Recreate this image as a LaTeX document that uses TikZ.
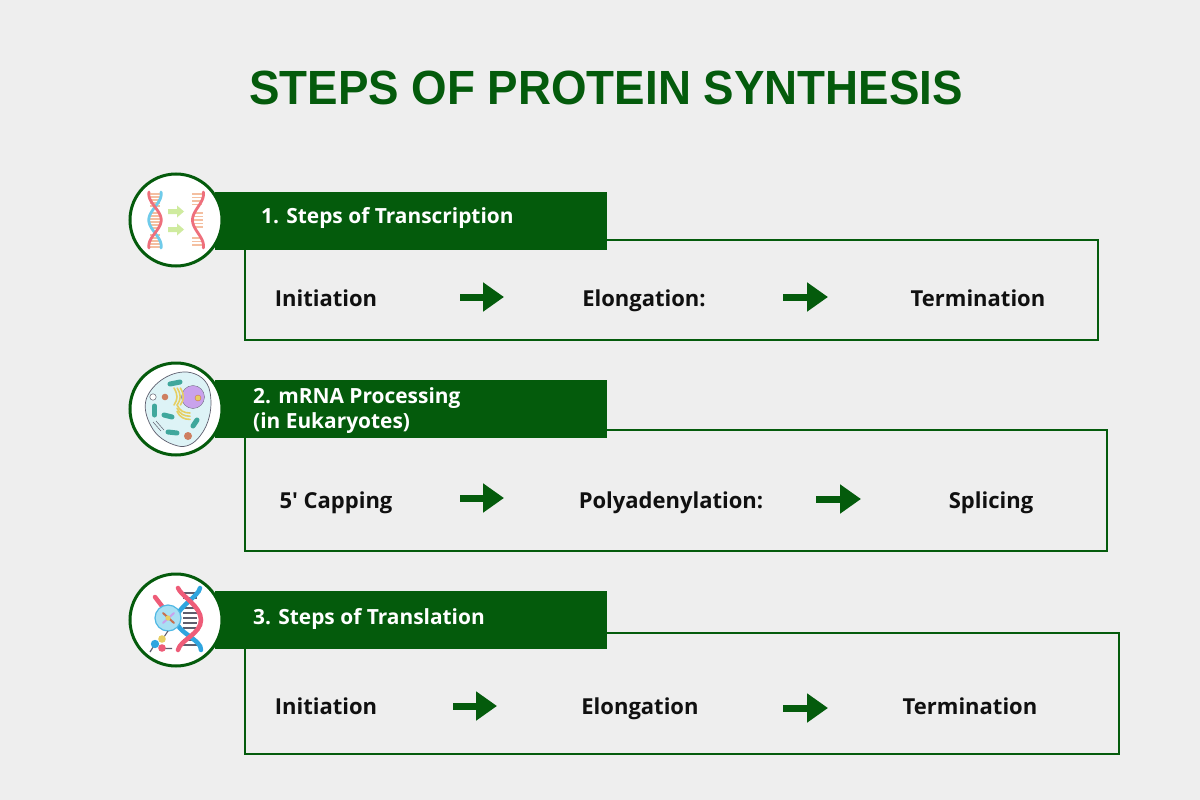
\documentclass[tikz,border=0pt]{standalone}
\usepackage{fontspec}
\setmainfont{Open Sans}
\newfontfamily\stepfont{Open Sans}
\newfontfamily\titlefont[FakeStretch=0.952]{Liberation Sans}
\usetikzlibrary{arrows.meta}
\definecolor{bgc}{HTML}{EEEEEE}
\definecolor{dgreen}{HTML}{045B0C}
\definecolor{inkc}{HTML}{101010}
\definecolor{pinkc}{HTML}{EE6F7C}
\definecolor{bluec}{HTML}{6FCBEA}
\definecolor{rungc}{HTML}{F4BFA0}
\definecolor{lgreen}{HTML}{CFEB9F}
\definecolor{cellc}{HTML}{DDF3F6}
\definecolor{tealc}{HTML}{3FA79C}
\definecolor{purpc}{HTML}{C9A2EC}
\definecolor{yelc}{HTML}{E6CF62}
\definecolor{brownc}{HTML}{C9714E}
\definecolor{dnapink}{HTML}{EE5C78}
\definecolor{dnablue}{HTML}{2FA5DF}
\definecolor{greyc}{HTML}{5E5E6E}
\tikzset{
  x=1pt,y=-1pt,
  titletext/.style={font=\titlefont\bfseries\fontsize{48}{52}\selectfont,text=dgreen},
  headbar/.style={fill=dgreen,draw=none,inner sep=0pt,minimum height=58pt,minimum width=392pt,anchor=north west},
  headtext/.style={font=\bfseries\fontsize{20.9}{24.5}\selectfont,text=white,anchor=base west,align=left,inner sep=0pt},
  panel/.style={draw=dgreen,line width=1.8pt,fill=none},
  stept/.style={font=\stepfont\bfseries\fontsize{22}{26}\selectfont,text=inkc,inner sep=0pt,anchor=base},
  blockarrow/.style={draw=dgreen,line width=7pt,-{Triangle[length=21pt,width=28pt,fill=dgreen]}},
  badge/.style={circle,draw=dgreen,line width=3pt,fill=white,minimum size=92pt,inner sep=0pt},
  rung/.style={line width=1.2pt},
}
\begin{document}
\begin{tikzpicture}
\useasboundingbox[fill=bgc] (0,0) rectangle (1200,800);
\node[titletext] (title) at (606,87.5) {STEPS OF PROTEIN SYNTHESIS};

% panels
\draw[panel] (245,240) rectangle (1098,340);
\draw[panel] (245,430) rectangle (1107,551);
\draw[panel] (245,633) rectangle (1119,754);

% header bars
\node[headbar] (h1) at (215,192) {};
\node[headbar] (h2) at (215,380) {};
\node[headbar] (h3) at (215,591) {};
\node[headtext] (h1t) at (261,223) {1. Steps of Transcription};
\node[headtext,anchor=west] (h2t) at (253,410.5) {2. mRNA Processing\\(in Eukaryotes)};
\node[headtext] (h3t) at (253,624) {3. Steps of Translation};

% badges
\node[badge] (b1) at (176,220) {};
\node[badge] (b2) at (176,409) {};
\node[badge] (b3) at (176,620) {};

% icon 1: DNA
\foreach \y in {194,197,200,203,206,213,216,219,222,225,228,235,238,241,244,247}
  \draw[rungc,rung] (150,\y) -- (160,\y);
\foreach \y in {194,197.5,201,204.5,238,241.5,245}
  \draw[rungc,rung] (192,\y) -- (202,\y);
\foreach \y in {213,216.5,220,223.5,227}
  \draw[rungc,rung] (193,\y) -- (203,\y);
\draw[bluec,line width=2.8pt,line cap=round,domain=-2:54,samples=60,smooth] plot ({155+6.2*cos(\x/52*360)},{194+\x});
\draw[pinkc,line width=2.8pt,line cap=round,domain=-2:54,samples=60,smooth] plot ({155-6.2*cos(\x/52*360)},{194+\x});
\draw[pinkc,line width=2.8pt,line cap=round,domain=-2:54,samples=60,smooth] plot ({198-5.5*cos((\x+26)/52*360)},{194+\x});
\fill[lgreen] (168,209) -- (177,209) -- (177,205.5) -- (184,211.5) -- (177,217.5) -- (177,214) -- (168,214) -- cycle;
\fill[lgreen] (168,227) -- (177,227) -- (177,223.5) -- (184,229.5) -- (177,235.5) -- (177,232) -- (168,232) -- cycle;

% icon 2: cell
\draw[fill=cellc,draw=greyc,line width=.7pt] (187,372) .. controls (198,373) and (208,380) .. (210,392)
  .. controls (213,408) and (209,425) .. (200,436) .. controls (194,444) and (186,448) .. (178,446)
  .. controls (166,443) and (156,436) .. (151,426) .. controls (146,417) and (144,408) .. (146,400)
  .. controls (150,386) and (168,371) .. (187,372) -- cycle;
\fill[white,draw=greyc,line width=.5pt] (153,397) circle (3.2pt);
\fill[purpc,draw=greyc,line width=.3pt] (193,397) circle (11.5pt);
\fill[yelc,draw=brownc,line width=.4pt] (198,398) circle (3pt);
\fill[brownc!90] (165,397) circle (3.3pt);
\fill[brownc!90] (188,436) circle (4pt);
\foreach \a/\b/\c/\d in {170/384/180/382,154.5/406/154.5/415,164/415/172/417,168/432/177/433,193/426/197/420}
  \draw[tealc,line width=5pt,line cap=round] (\a,\b) -- (\c,\d);
\foreach \d in {0,3.2,6.4}{
  \draw[yelc,line width=1.6pt,line cap=round] ({174+\d},388) .. controls ({178+\d},395) and ({178+\d},399) .. ({174+\d},405);
  \draw[yelc,line width=1.6pt,line cap=round] ({177},{405+\d}) .. controls ({180},{411+\d}) and ({184},{413+\d}) .. ({190},{413+\d});
}
\draw[greyc,line width=.5pt] (153,422) -- (161,431);
\draw[greyc,line width=.5pt] (156,421) -- (164,430);

% icon 3: DNA with magnifier
\foreach \y in {593,598,608,613,618,623,628,640,645}
  \draw[greyc,line width=1.5pt] (183,\y) -- (197,\y);
\draw[dnablue,line width=4.5pt,line cap=round] (200,588) .. controls (199,596) and (176,608) .. (176,620)
  .. controls (176,632) and (202,640) .. (201,650);
\draw[dnapink,line width=4.5pt,line cap=round] (178,588) .. controls (181,596) and (201,606) .. (201,620)
  .. controls (201,634) and (180,640) .. (178,650);
\draw[dnapink,line width=4.5pt,line cap=round] (155,597) -- (165,610);
\fill[bluec!60,draw=bluec!50!dnablue,line width=1.2pt] (168,618) circle (13pt);
\draw[brownc,line width=2pt,line cap=round] (163,613) -- (174,623);
\draw[purpc,line width=2pt,line cap=round] (174,613) -- (163,623);
\fill[yelc] (168,618) circle (2.6pt);
\draw[greyc,line width=1pt] (168,631) -- (162,640);
\fill[yelc] (162,639) circle (3.8pt);
\draw[greyc,line width=1.2pt] (150,652) -- (155,644) (160,648.5) -- (172,648.5);
\fill[dnablue] (155,644) circle (4.2pt);
\fill[dnapink] (162,648) circle (3.8pt);

% steps row 1
\node[stept] (s11) at (326,306) {Initiation};
\node[stept] (s12) at (644,306) {Elongation:};
\node[stept] (s13) at (978,306) {Termination};
\coordinate (a11s) at (460,297); \coordinate (a11e) at (504,297);
\coordinate (a12s) at (783,297); \coordinate (a12e) at (828,297);
\draw[blockarrow] (a11s) -- (a11e);
\draw[blockarrow] (a12s) -- (a12e);

% steps row 2
\node[stept] (s21) at (336,508) {5' Capping};
\node[stept] (s22) at (671,508) {Polyadenylation:};
\node[stept] (s23) at (991,508) {Splicing};
\coordinate (a21s) at (460,498); \coordinate (a21e) at (504,498);
\coordinate (a22s) at (816,499); \coordinate (a22e) at (861,499);
\draw[blockarrow] (a21s) -- (a21e);
\draw[blockarrow] (a22s) -- (a22e);

% steps row 3
\node[stept] (s31) at (326,714) {Initiation};
\node[stept] (s32) at (640,714) {Elongation};
\node[stept] (s33) at (970,714) {Termination};
\coordinate (a31s) at (453,706); \coordinate (a31e) at (497,706);
\coordinate (a32s) at (783,708); \coordinate (a32e) at (828,708);
\draw[blockarrow] (a31s) -- (a31e);
\draw[blockarrow] (a32s) -- (a32e);
\end{tikzpicture}
\end{document}
